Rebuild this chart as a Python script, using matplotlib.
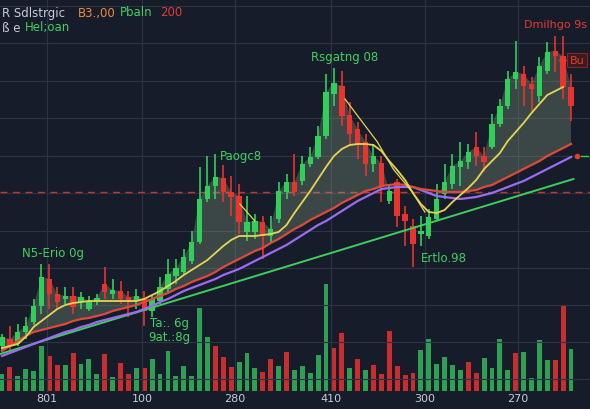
import numpy as np
import matplotlib.pyplot as plt

# candle values (price units), one per bar
opens = [53, 60, 55, 67, 77, 93, 120, 105, 100, 103, 97, 90, 98, 115, 105, 108, 102, 98, 100, 88,
         98, 110, 123, 127, 138, 157, 200, 213, 221, 207, 203, 167, 167, 177, 163, 180, 207, 217, 218, 235,
         242, 263, 305, 313, 284, 270, 257, 235, 236, 198, 217, 185, 173, 165, 163, 180, 205, 215, 232, 237,
         252, 243, 252, 275, 293, 320, 325, 315, 303, 328, 348, 343, 312]
closes = [62, 53, 67, 73, 93, 122, 105, 97, 103, 92, 102, 98, 101, 107, 109, 100, 97, 103, 88, 100,
          112, 125, 131, 142, 157, 200, 213, 222, 207, 202, 177, 177, 178, 163, 170, 208, 217, 207, 235, 242,
          263, 307, 316, 283, 265, 255, 235, 243, 212, 208, 183, 178, 155, 168, 182, 200, 217, 233, 238, 247,
          243, 237, 275, 293, 320, 327, 313, 310, 333, 347, 343, 312, 293]
highs = [65, 73, 75, 82, 100, 135, 135, 112, 112, 112, 107, 103, 105, 132, 120, 118, 108, 110, 108, 104,
         122, 140, 140, 150, 168, 232, 243, 245, 234, 223, 215, 203, 185, 183, 183, 217, 225, 245, 243, 252,
         273, 325, 331, 328, 297, 277, 265, 255, 243, 215, 220, 193, 180, 183, 190, 215, 235, 245, 257, 255,
         267, 252, 285, 300, 328, 358, 333, 322, 342, 357, 363, 363, 325]
lows = [48, 48, 53, 60, 74, 85, 90, 90, 95, 85, 90, 88, 94, 100, 100, 95, 82, 90, 73, 82,
        95, 107, 115, 124, 135, 155, 197, 200, 197, 183, 165, 158, 160, 140, 157, 176, 200, 203, 214, 232,
        240, 260, 293, 273, 253, 240, 223, 227, 197, 195, 172, 153, 132, 153, 160, 178, 200, 210, 213, 230,
        233, 227, 250, 272, 290, 310, 293, 288, 297, 325, 327, 300, 278]

# moving averages / trend
ma_yellow = [51, 53, 55, 62, 72, 78, 84, 90, 94, 96, 97, 98, 98, 98, 98, 98, 98, 98, 100, 104,
             108, 113, 118, 124, 129, 134, 139, 146, 153, 159, 163, 163, 163, 164, 165, 167, 174, 186, 197, 208,
             220, 232, 243, 250, 254, 255, 255, 254, 248, 238, 229, 219, 206, 195, 187, 186, 189, 197, 204, 211,
             219, 230, 238, 246, 258, 267, 276, 286, 295, 304, 308, 312, np.nan]
ma_red = [48, 53, 58, 63, 67, 69, 71, 73, 75, 78, 80, 81, 83, 85, 88, 90, 92, 94, 97, 100,
          103, 106, 110, 113, 117, 120, 123, 127, 132, 136, 140, 144, 148, 151, 156, 160, 165, 170, 174, 179,
          183, 187, 191, 196, 200, 204, 208, 210, 213, 214, 215, 214, 212, 210, 209, 208, 207, 207, 207, 208,
          209, 212, 214, 218, 222, 226, 230, 234, 238, 243, 247, 251, 255]
ma_purple = [43, 46, 49, 52, 55, 58, 61, 64, 67, 69, 72, 74, 77, 79, 81, 83, 85, 87, 90, 93,
             97, 100, 104, 108, 111, 114, 117, 120, 124, 127, 130, 134, 138, 142, 146, 150, 154, 159, 164, 169,
             174, 178, 183, 188, 193, 198, 202, 206, 210, 211, 212, 212, 212, 209, 206, 203, 202, 201, 200, 201,
             202, 204, 206, 209, 212, 215, 218, 222, 226, 230, 234, 238, 242]
fast_x = [30.1, 32.0, np.nan, 43.4, 47.5, 49.5, 51.9, 53.5]
fast_y = [195, 178, np.nan, 300, 257, 230, 207, 187]
trend_x = [-0.25, 72.3]
trend_y = [45, 220]
ref_level = 207

volume = [17, 24, 15, 22, 20, 45, 35, 26, 26, 38, 27, 32, 17, 37, 14, 28, 17, 23, 23, 32,
          17, 40, 15, 25, 15, 83, 54, 45, 34, 24, 29, 38, 23, 19, 32, 25, 39,
          21, 25, 18, 36, 107, 43, 58, 23, 32, 21, 26, 17, 60, 25, 16, 18, 41, 52, 27, 34,
          26, 21, 29, 18, 33, 23, 52, 21, 38, 39, 13, 51, 31, 31, 85, 42]
vol_dir = "grgggg" "rrgrggg" "rgrrgrg" "ggggggg" "rrrgggrrg" + "rgggggrrgrgrrrrrrggggggrrggggrggggrr"

tick_pos = [5.7, 17.7, 29.5, 41.6, 53.5, 65.3]
tick_labels = ['801', '100', '280', '410', '300', '270']
grid_levels = [393, 356, 318, 281, 243, 206, 168, 131, 94, 57, 20]

BG = '#161c2a'
GREEN = '#2fcf5a'
RED = '#e8342d'
GRID = '#2b3344'

opens = np.array(opens, float)
closes = np.array(closes, float)
x = np.arange(len(opens))
up = closes >= opens

fig = plt.figure(figsize=(5.9, 4.1), dpi=100, facecolor=BG)

# volume panel at the bottom
axv = fig.add_axes([0, 18 / 410, 1, 120 / 410])
axv.set_facecolor('none')
vcol = ['#2fa956' if c == 'g' else '#d2302e' for c in vol_dir[:len(volume)]]
axv.bar(x, volume, width=0.62, color=vcol, alpha=0.95, zorder=2)
axv.set_xlim(-0.25, 74.4)
axv.set_ylim(0, 120)
axv.axis('off')

ax = fig.add_axes([0, 17 / 410, 1, 393 / 410])
ax.set_facecolor('none')
axv.set_zorder(0)
ax.set_zorder(1)

for g in grid_levels:
    ax.axhline(g, color=GRID, lw=0.8, zorder=0)
for t in tick_pos:
    ax.axvline(t, color=GRID, lw=0.8, zorder=0)

ax.axhline(ref_level, color='#c0392b', lw=1.0, ls=(0, (5, 4)), zorder=1)

# shaded zone between price and red average
body_top = np.maximum(opens, closes)
red_arr = np.array(ma_red, float)
ax.fill_between(x, red_arr, body_top, where=body_top > red_arr, interpolate=True,
                color='#93ad8c', alpha=0.3, lw=0, zorder=1)

# candles
ccol = np.where(up, GREEN, RED)
ax.vlines(x, lows, highs, colors=ccol, lw=1.2, zorder=3)
heights = np.maximum(np.abs(closes - opens), 1.2)
ax.bar(x, heights, bottom=np.minimum(opens, closes), width=0.68, color=ccol, zorder=4)

ax.plot(trend_x, trend_y, color='#3ccf5c', lw=1.4, zorder=5)
ax.plot(x, ma_purple, color='#9a6cf2', lw=1.6, zorder=5)
ax.plot(x, ma_red, color='#dc4a3c', lw=1.6, zorder=5)
ax.plot(x, ma_yellow, color='#e6d451', lw=1.3, zorder=6)
ax.plot(fast_x, fast_y, color='#e6d451', lw=0.9, zorder=6)

ax.set_xlim(-0.25, 74.4)
ax.set_ylim(7, 400)
ax.set_xticks(tick_pos)
ax.set_xticklabels(tick_labels)
ax.set_yticks([])
ax.tick_params(axis='x', length=0, pad=1, colors='#c8ccd4', labelsize=8)
for s in ax.spines.values():
    s.set_visible(False)


def ptxt(px, py, s, color, ha='left', size=8.5, **kw):
    fig.text(px / 590, 1 - py / 410, s, color=color, ha=ha, va='center', fontsize=size, **kw)


GT = '#3fd160'
ptxt(2, 13, 'R Sdlstrgic', '#c8ccd4')
ptxt(78, 13, 'B3.,00', '#f08a3c')
ptxt(120, 13, 'Pbaln', GT)
ptxt(160, 13, '200', '#e03c32')
ptxt(2, 28, 'ß e', '#c8ccd4')
ptxt(25, 28, 'Hel;oan', GT)
ptxt(345, 58, 'Rsgatng 08', GT, ha='center')
ptxt(241, 157, 'Paogc8', GT, ha='center')
ptxt(53, 253, 'N5-Erio 0g', GT, ha='center')
ptxt(150, 323, 'Ta:. 6g', GT)
ptxt(148, 338, '9at.:8g', GT)
ptxt(421, 258, 'Ertlo.98', GT)
ptxt(587, 25, 'Dmilhgo 9s', '#e03c32', ha='right', size=8)
fig.text(577 / 590, 1 - 61 / 410, 'Bu', color='#e03c32', ha='center', va='center', fontsize=8,
         bbox=dict(boxstyle='square,pad=0.2', fc='#3e1a20', ec='#7a2a2a', lw=0.8))
ax.plot([70.5, 71.6], [339, 339], color='#e03c32', lw=1, zorder=6)
ax.plot([72.8], [243], marker='o', ms=3, color='#e03c32', zorder=6)
ax.plot([73.2, 74.2], [243, 243], color='#3ccf5c', lw=1, zorder=6)

fig.savefig('out.png', dpi=100, facecolor=BG)
